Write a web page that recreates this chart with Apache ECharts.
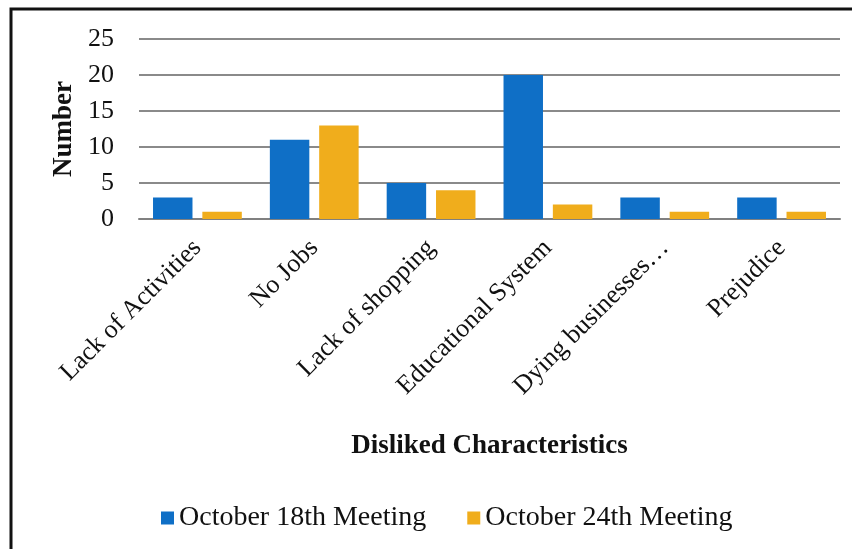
<!DOCTYPE html>
<html>
<head>
<meta charset="utf-8">
<script src="https://cdn.jsdelivr.net/npm/echarts@6/dist/echarts.min.js"></script>
<style>
  html, body { margin: 0; padding: 0; background: #fff; }
  #chart { width: 852px; height: 549px; }
</style>
</head>
<body>
<div id="chart"></div>
<script>
// Disliked characteristics, counted at two meetings
const categories = ['Lack of Activities', 'No Jobs', 'Lack of shopping', 'Educational System', 'Dying businesses\u2026', 'Prejudice'];
const oct18 = [3, 11, 5, 20, 3, 3];
const oct24 = [1, 13, 4, 2, 1, 1];
const seriesNames = ['October 18th Meeting', 'October 24th Meeting'];
const yTicks = { min: 0, max: 25, interval: 5 };

const serif = '"Liberation Serif", "DejaVu Serif", serif';
const chart = echarts.init(document.getElementById('chart'), null, { renderer: 'canvas' });

chart.setOption({
  backgroundColor: '#ffffff',
  animation: false,
  color: ['#0f6fc6', '#f0ad1c'],
  grid: { left: 139, right: 12, top: 39, bottom: 330 },
  legend: {
    data: seriesNames,
    bottom: 12,
    left: 156,
    itemWidth: 13,
    itemHeight: 13,
    itemGap: 41,
    icon: 'rect',
    textStyle: { fontFamily: serif, fontSize: 28, color: '#111' }
  },
  xAxis: {
    type: 'category',
    data: categories,
    name: 'Disliked Characteristics',
    nameLocation: 'middle',
    nameGap: 214,
    nameTextStyle: { fontFamily: serif, fontSize: 27, fontWeight: 'bold', color: '#111' },
    axisLine: { show: true, lineStyle: { color: '#808080', width: 2 } },
    axisTick: { show: false },
    axisLabel: {
      rotate: 45,
      interval: 0,
      margin: 25,
      fontFamily: serif,
      fontSize: 26,
      color: '#111'
    }
  },
  yAxis: {
    type: 'value',
    min: yTicks.min,
    max: yTicks.max,
    interval: yTicks.interval,
    name: 'Number',
    nameLocation: 'middle',
    nameGap: 58,
    nameRotate: 90,
    nameTextStyle: { fontFamily: serif, fontSize: 27, fontWeight: 'bold', color: '#111' },
    axisLine: { show: false },
    axisTick: { show: false },
    axisLabel: { margin: 25, fontFamily: serif, fontSize: 26, color: '#111' },
    splitLine: { lineStyle: { color: '#8a8a8a', width: 2 } }
  },
  series: [
    { name: seriesNames[0], type: 'bar', data: oct18, barGap: '25%', barCategoryGap: '24%' },
    { name: seriesNames[1], type: 'bar', data: oct24, barGap: '25%', barCategoryGap: '24%' }
  ],
  graphic: [
    {
      type: 'polyline',
      shape: { points: [[11, 549], [11, 9], [852, 9]] },
      style: { stroke: '#111', lineWidth: 3, fill: null },
      silent: true
    }
  ]
});
</script>
</body>
</html>
